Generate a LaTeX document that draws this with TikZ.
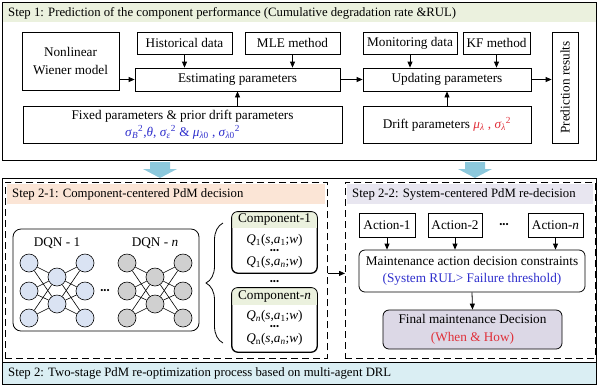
\documentclass[tikz,border=0pt]{standalone}
\usepackage{fontspec}
\setmainfont{Liberation Serif}
\usetikzlibrary{arrows.meta,decorations.pathreplacing,calc}
\definecolor{gband}{HTML}{EBF1DE}
\definecolor{oband}{HTML}{FBE5D6}
\definecolor{pband}{HTML}{E8E6F0}
\definecolor{bband}{HTML}{DAEEF3}
\definecolor{bigarrow}{HTML}{8CC8DC}
\definecolor{nblue}{HTML}{DAE3F3}
\definecolor{ngray}{HTML}{D0D0D0}
\definecolor{finalfill}{HTML}{DCD8E6}
\definecolor{tblue}{HTML}{2E2ECC}
\definecolor{tred}{HTML}{E0303A}
\newcommand{\mydots}{{\fontsize{9}{9}\selectfont •••}}
\newcommand{\qq}[2]{\textit{Q}\textsubscript{#1}(\textit{s},\textit{a}\textsubscript{#2};\textit{w})}
\begin{document}
\begin{tikzpicture}[x=1bp,y=-1bp,
  font=\fontsize{13.3}{15}\selectfont,
  box/.style={draw, line width=0.8pt, inner sep=1pt, align=center},
  rbox/.style={box, rounded corners=6bp},
  arr/.style={-{Triangle[length=6bp,width=5bp]}, line width=0.8pt},
  frame/.style={draw, line width=1pt, inner sep=0pt, anchor=north west},
  dframe/.style={draw, line width=0.9pt, dash pattern=on 7bp off 4bp, inner sep=0pt, anchor=north west},
  neuron/.style={circle, draw, line width=0.6pt, minimum size=18bp, inner sep=0pt},
  ttl/.style={anchor=west, inner sep=0pt, font=\fontsize{12.8}{14}\selectfont},
  two/.style={font=\fontsize{13.3}{17.5}\selectfont}]
\useasboundingbox (0,0) rectangle (598,386);

% ---------- Step 1 ----------
\node[frame, minimum width=594bp, minimum height=158bp] (step1) at (2,2) {};
\fill[gband] (2.5,2.5) rectangle (595.5,22);
\node[ttl] (t1) at (8,13) {Step 1: Prediction of the component performance (Cumulative degradation rate \&RUL)};

\node[box, two, minimum width=97bp, minimum height=58bp] (wiener) at (70.5,61) {Nonlinear\\Wiener model};
\node[box, minimum width=95bp, minimum height=22bp] (hist) at (184.5,43) {Historical data};
\node[box, minimum width=95bp, minimum height=22bp] (mle) at (292.5,43) {MLE method};
\node[box, minimum width=205bp, minimum height=23bp] (est) at (237.5,79.5) {Estimating parameters};
\node[box, two, minimum width=319bp, minimum height=37bp] (fixed) at (182.5,124.5) {Fixed parameters \& prior drift parameters\\{\color{tblue}\textit{σ}\textsubscript{\textit{B}}\textsuperscript{2},\textit{θ}, \textit{σ}\textsubscript{\textit{ε}}\textsuperscript{2} \& \textit{μ}\textsubscript{\textit{λ}0} , \textit{σ}\textsubscript{\textit{λ}0}\textsuperscript{2}}};
\node[box, minimum width=94bp, minimum height=22bp] (mon) at (410,43) {Monitoring data};
\node[box, minimum width=67bp, minimum height=22bp] (kf) at (496.5,43) {KF method};
\node[box, minimum width=168bp, minimum height=23bp] (upd) at (447,79.5) {Updating parameters};
\node[box, minimum width=168bp, minimum height=37bp] (drift) at (447,124.5) {Drift parameters {\color{tred}\textit{μ}\textsubscript{\textit{λ}} , \textit{σ}\textsubscript{\textit{λ}}\textsuperscript{2}}};
\node[box, minimum width=26bp, minimum height=111bp] (pred) at (565,87.5) {};
\node[rotate=90] (predt) at (pred.center) {Prediction results};

\draw[arr] (wiener.east |- est.west) -- (est.west);
\draw[arr] (hist.south) -- (hist.south |- est.north);
\draw[arr] (mle.south) -- (mle.south |- est.north);
\draw[arr] (est.south |- fixed.north) -- (est.south);
\draw[arr] (est.east) -- (upd.west);
\draw[arr] (mon.south) -- (mon.south |- upd.north);
\draw[arr] (kf.south) -- (kf.south |- upd.north);
\draw[arr] (drift.north) -- (upd.south);
\draw[arr] (upd.east) -- (upd.east -| pred.west);

% ---------- big arrows ----------
\foreach \cx in {160,475} {
  \fill[bigarrow] (\cx-10,162) -- (\cx+10,162) -- (\cx+10,169) -- (\cx+17,169) -- (\cx,178)
    -- (\cx-17,169) -- (\cx-10,169) -- cycle;
}

% ---------- Step 2 ----------
\node[frame, minimum width=594bp, minimum height=206bp] (step2) at (2,178) {};
\fill[bband] (2.5,362) rectangle (595.5,383.5);
\draw[line width=0.6pt] (step2.west |- 0,362) -- (step2.east |- 0,362);
\node[ttl] (t2) at (8,373) {Step 2: Two-stage PdM re-optimization process based on multi-agent DRL};

\node[dframe, minimum width=322bp, minimum height=176bp] (s21) at (5,182) {};
\fill[oband] (7,184) rectangle (325,204);
\node[ttl] (t21) at (12,194) {Step 2-1: Component-centered PdM decision};

\node[dframe, minimum width=250bp, minimum height=176bp] (s22) at (345,182) {};
\fill[pband] (347,184) rectangle (593,204);
\node[ttl] (t22) at (352,194) {Step 2-2: System-centered PdM re-decision};

% DQN box
\node[draw, line width=0.8pt, rounded corners=8bp, minimum width=186bp, minimum height=102bp] (dqn) at (106,280) {};
\node (dqn1) at (57,243) {DQN - 1};
\node (dqnn) at (155,243) {DQN - \textit{n}};
\foreach \nm/\nx/\col in {a/29/nblue, b/127/ngray} {
  \foreach \r/\yy in {1/263,2/291,3/318} {
    \node[neuron,fill=\col] (\nm L\r) at (\nx,\yy) {};
    \node[neuron,fill=\col] (\nm R\r) at (\nx+56,\yy) {};
  }
  \foreach \r/\yy in {1/277,2/304} {
    \node[neuron,fill=\col] (\nm M\r) at (\nx+28,\yy) {};
  }
  \foreach \i in {1,2,3} {
    \foreach \j in {1,2} {
      \draw[line width=0.6pt] (\nm L\i) -- (\nm M\j);
      \draw[line width=0.6pt] (\nm M\j) -- (\nm R\i);
    }
  }
}
\node (ndots) at (105,291) {\mydots};

% brace
\draw[decorate, decoration={brace, amplitude=17bp}, line width=0.8pt] (223,343) -- (223,223);

% component boxes
\node[rbox, minimum width=85bp, minimum height=61bp] (c1) at (274.5,242.5) {};
\begin{scope}
  \clip[rounded corners=6bp] (c1.north west) rectangle (c1.south east);
  \fill[gband] (c1.north west) rectangle ($(c1.north east)+(0,16)$);
\end{scope}
\draw[line width=0.8pt, rounded corners=6bp] (c1.north west) rectangle (c1.south east);
\node (c1t) at (274.5,220) {Component-1};
\node (c1a) at (274.5,240) {\qq{1}{1}};
\node (c1d) at (274.5,251) {\mydots};
\node (c1b) at (274.5,262) {\qq{1}{\textit{n}}};

\node (cdots) at (274.5,282) {\mydots};

\node[rbox, minimum width=85bp, minimum height=64bp] (cn) at (274.5,320) {};
\begin{scope}
  \clip[rounded corners=6bp] (cn.north west) rectangle (cn.south east);
  \fill[gband] (cn.north west) rectangle ($(cn.north east)+(0,17)$);
\end{scope}
\draw[line width=0.8pt, rounded corners=6bp] (cn.north west) rectangle (cn.south east);
\node (cnt) at (274.5,297) {Component-\textit{n}};
\node (cna) at (274.5,316) {\qq{\textit{n}}{1}};
\node (cnd) at (274.5,327) {\mydots};
\node (cnb) at (274.5,339) {\qq{n}{\textit{n}}};

% link between stages
\draw[arr] (s21.east |- c1.south) -- (s22.west |- c1.south);

% Step 2-2 contents
\node[box, minimum width=56bp, minimum height=24bp] (a1) at (387,225) {Action-1};
\node[box, minimum width=54bp, minimum height=24bp] (a2) at (455,225) {Action-2};
\node (adots) at (504,225) {\mydots};
\node[box, minimum width=55bp, minimum height=24bp] (an) at (555.5,225) {Action-\textit{n}};
\node[rbox, two, minimum width=226bp, minimum height=42bp] (maint) at (472,271) {Maintenance action decision constraints\\{\color{tblue}(System RUL> Failure threshold)}};
\node[rbox, two, fill=finalfill, minimum width=179bp, minimum height=39bp] (final) at (472.5,329.5) {Final maintenance Decision\\{\color{tred}(When \& How)}};
\draw[arr] (a1.south) -- (a1.south |- maint.north);
\draw[arr] (a2.south) -- (a2.south |- maint.north);
\draw[arr] (an.south) -- (an.south |- maint.north);
\draw[arr] (maint.south) -- (final.north);
\end{tikzpicture}
\end{document}
